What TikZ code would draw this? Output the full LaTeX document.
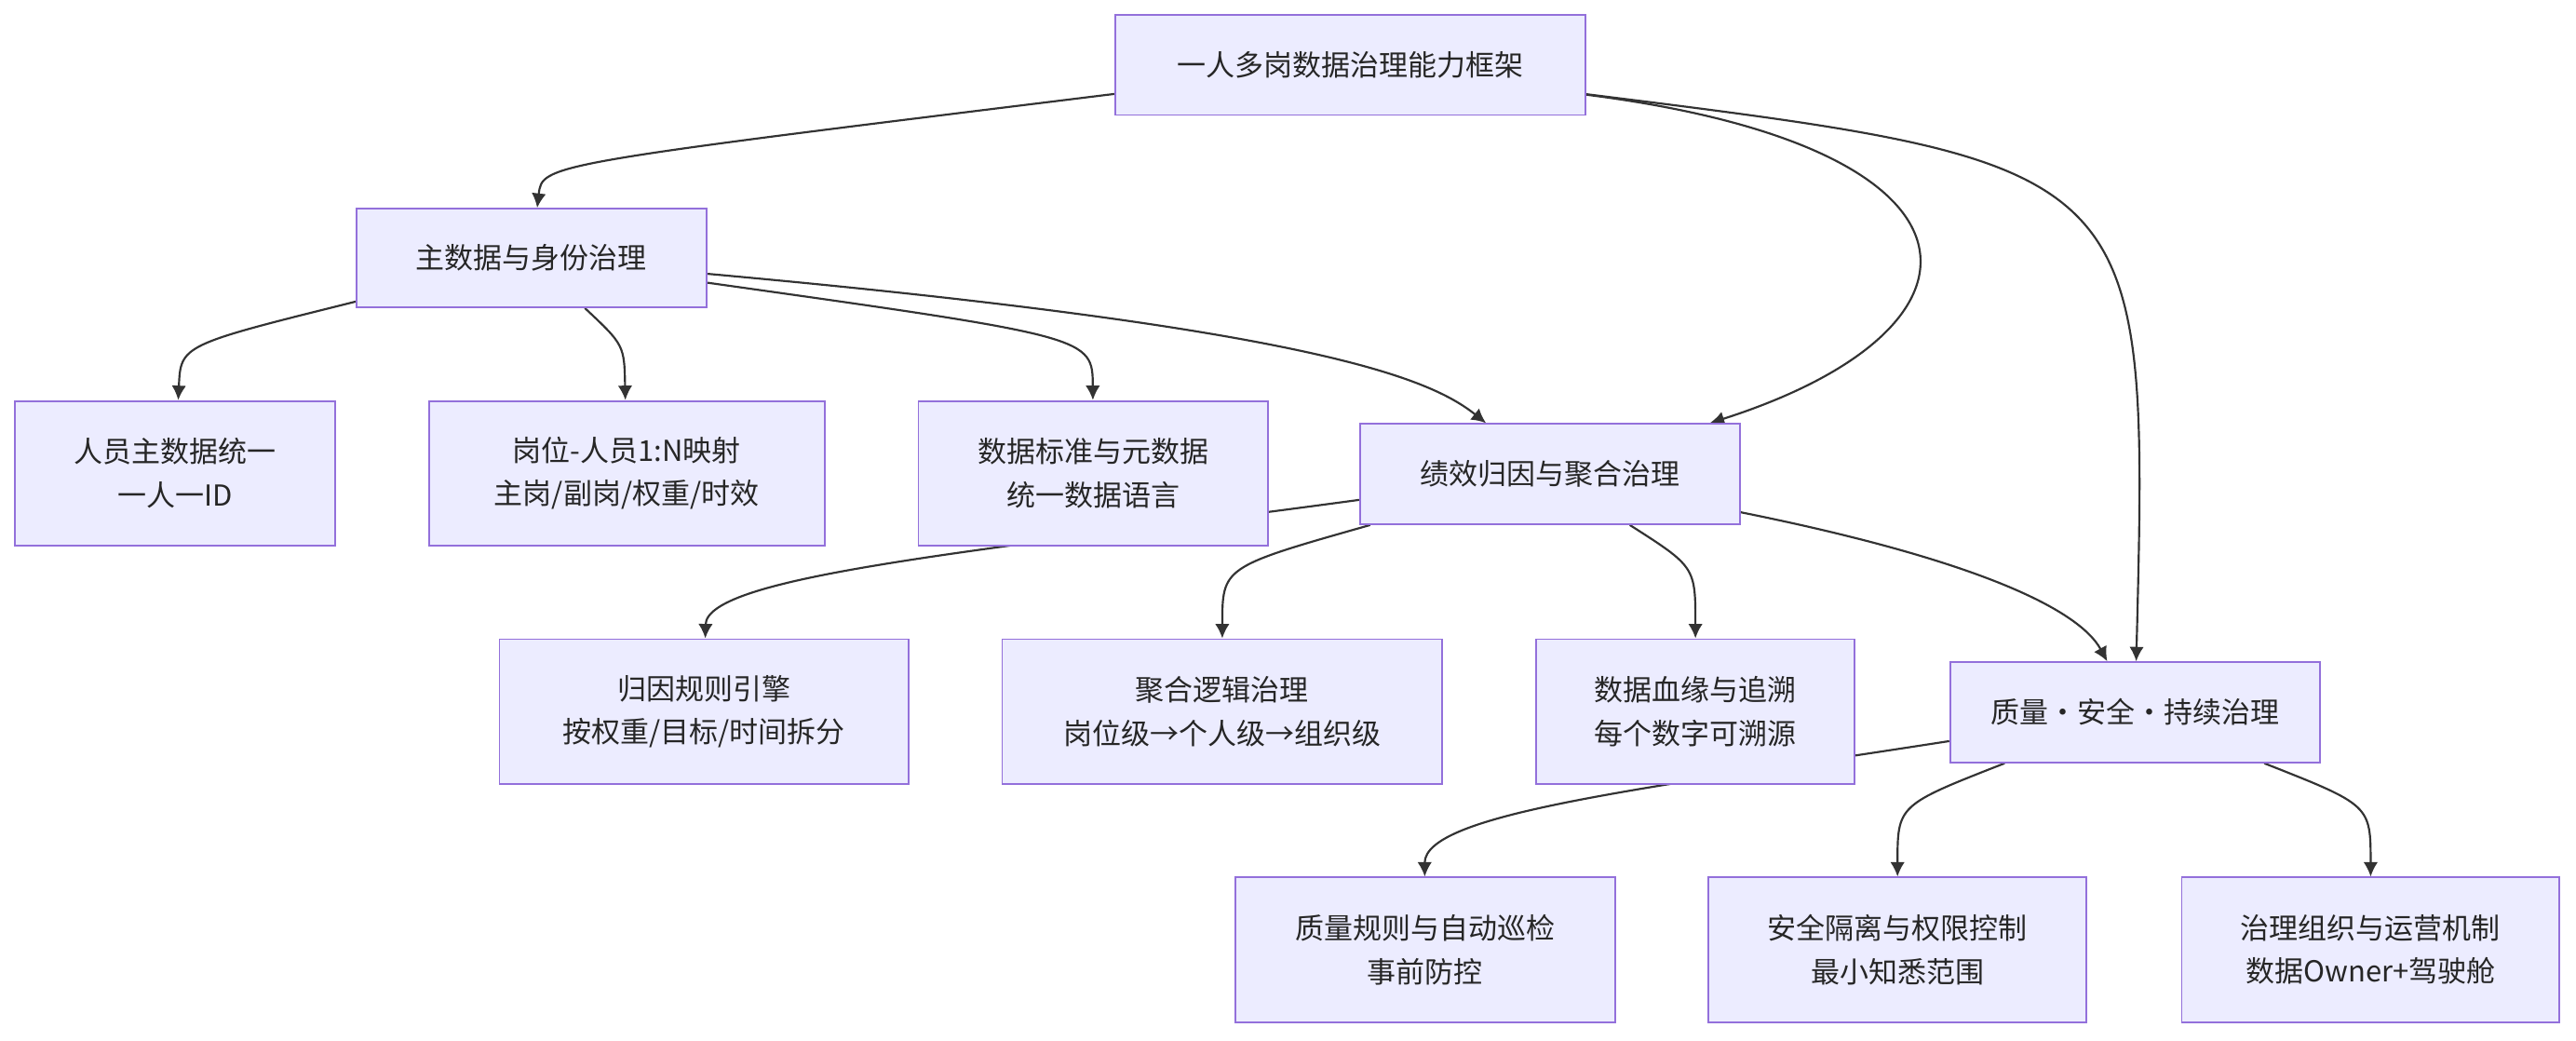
\documentclass[tikz,border=0pt]{standalone}
\usepackage{fontspec}
\setmainfont{Noto Sans CJK SC}
\usetikzlibrary{arrows.meta,backgrounds}
\definecolor{boxfill}{HTML}{ECECFF}
\definecolor{boxline}{HTML}{9370DB}
\definecolor{edgecol}{HTML}{333333}
\tikzset{
  box/.style={draw=boxline, fill=boxfill, line width=0.6pt, align=center,
    inner sep=0pt, font=\fontsize{10}{15}\selectfont, text=black!85},
  flow/.style={draw=edgecol, line width=0.7pt, -{Latex[length=5pt,width=5pt]}}
}
\begin{document}
\begin{tikzpicture}[x=0.02cm, y=-0.02cm]
    \useasboundingbox (0,0) rectangle (1568,633);
    % top
    \node[box, minimum width=5.72cm, minimum height=1.22cm] (top) at (822,39.5) {一人多岗数据治理能力框架};
    % level 1
    \node[box, minimum width=4.26cm, minimum height=1.2cm] (main) at (323.5,157) {主数据与身份治理};
    \node[box, minimum width=3.9cm, minimum height=1.76cm] (person) at (106.5,288) {人员主数据统一\\一人一ID};
    \node[box, minimum width=4.82cm, minimum height=1.76cm] (post) at (381.5,288) {岗位-人员1:N映射\\主岗/副岗/权重/时效};
    \node[box, minimum width=4.26cm, minimum height=1.76cm] (std) at (665.5,288) {数据标准与元数据\\统一数据语言};
    \node[box, minimum width=4.62cm, minimum height=1.22cm] (perf) at (943.5,288.5) {绩效归因与聚合治理};
    % level 2
    \node[box, minimum width=4.98cm, minimum height=1.76cm] (attr) at (428.5,433) {归因规则引擎\\按权重/目标/时间拆分};
    \node[box, minimum width=5.36cm, minimum height=1.76cm] (agg) at (744,433) {聚合逻辑治理\\岗位级→个人级→组织级};
    \node[box, minimum width=3.88cm, minimum height=1.76cm] (lineage) at (1032,433) {数据血缘与追溯\\每个数字可溯源};
    \node[box, minimum width=4.5cm, minimum height=1.22cm] (qual) at (1299.5,433.5) {质量·安全·持续治理};
    % level 3
    \node[box, minimum width=4.62cm, minimum height=1.76cm] (qrule) at (867.5,578) {质量规则与自动巡检\\事前防控};
    \node[box, minimum width=4.6cm, minimum height=1.76cm] (sec) at (1155,578) {安全隔离与权限控制\\最小知悉范围};
    \node[box, minimum width=4.6cm, minimum height=1.76cm] (org) at (1443,578) {治理组织与运营机制\\数据Owner+驾驶舱};
    % connectors
    \begin{scope}[on background layer]
    \draw[flow] (top) .. controls (330,100) .. (main);
    \draw[flow] (top) .. controls (1221,90) and (1221,200) .. (perf);
    \draw[flow] (top) .. controls (1308,100) .. (qual);
    \draw[flow] (main) .. controls (110,210) .. (person);
    \draw[flow] (main) .. controls (380,210) .. (post);
    \draw[flow] (main) .. controls (665,205) .. (std);
    \draw[flow] (main) .. controls (800,200) and (870,230) .. (perf);
    \draw[flow] (perf) .. controls (600,335) and (430,350) .. (attr);
    \draw[flow] (perf) .. controls (744,345) .. (agg);
    \draw[flow] (perf) .. controls (1032,345) .. (lineage);
    \draw[flow] (perf) .. controls (1200,340) and (1265,370) .. (qual);
    \draw[flow] (qual) .. controls (1000,480) and (867,495) .. (qrule);
    \draw[flow] (qual) .. controls (1155,490) .. (sec);
    \draw[flow] (qual) .. controls (1443,490) .. (org);
    \end{scope}
\end{tikzpicture}
\end{document}
